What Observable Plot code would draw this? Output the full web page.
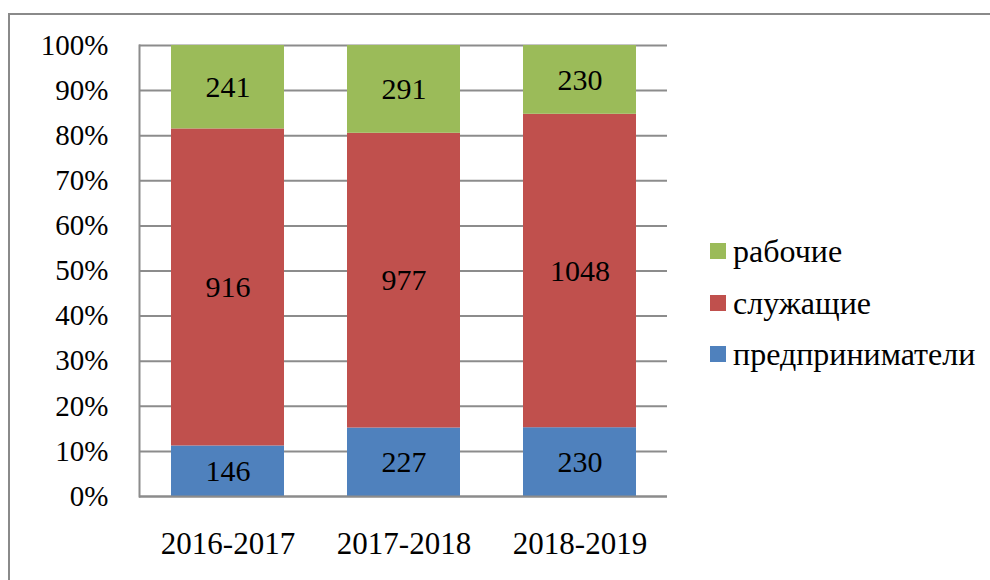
<!DOCTYPE html>
<html>
<head>
<meta charset="utf-8">
<script src="https://cdn.jsdelivr.net/npm/d3@7"></script>
<script src="https://cdn.jsdelivr.net/npm/@observablehq/plot@0.6"></script>
</head>
<body style="margin:0;padding:0;background:#fff;overflow:hidden;font-family:'Liberation Serif'">
<div id="wrap" style="position:relative;width:990px;height:580px;overflow:hidden;font-family:'Liberation Serif'">
  <div id="chart" style="position:absolute;left:0;top:0"></div>
  <div id="legend"></div>
  <div id="frame" style="position:absolute;left:8px;top:13px;width:1200px;height:800px;border:2px solid #8a8a8a;box-sizing:border-box;pointer-events:none"></div>
</div>
<script>
const years = ["2016-2017", "2017-2018", "2018-2019"];
const groups = ["предприниматели", "служащие", "рабочие"];
const predprinimateli = [146, 227, 230];
const sluzhashchie = [916, 977, 1048];
const rabochie = [241, 291, 230];
const colors = ["#4F81BD", "#C0504D", "#9BBB59"];
const yTicks = [0, 0.1, 0.2, 0.3, 0.4, 0.5, 0.6, 0.7, 0.8, 0.9, 1];

const series = [predprinimateli, sluzhashchie, rabochie];
const data = years.flatMap((year, i) =>
  groups.map((g, j) => ({ year, group: g, value: series[j][i] }))
);

const FONT = "Liberation Serif";

const chart = Plot.plot({
  width: 990,
  height: 580,
  marginLeft: 139,
  marginRight: 323,
  marginTop: 45,
  marginBottom: 84,
  style: { fontSize: "29px", color: "#000", background: "transparent" },
  x: { domain: years, paddingInner: 0.36, paddingOuter: 0.18, label: null },
  y: { domain: [0, 1], label: null },
  color: { domain: groups, range: colors },
  marks: [
    Plot.gridY(yTicks, { stroke: "#8c8c8c", strokeOpacity: 1, strokeWidth: 2 }),
    Plot.barY(data, Plot.stackY({ x: "year", y: "value", fill: "group", offset: "normalize" })),
    Plot.text(data, Plot.stackY({ x: "year", y: "value", text: d => String(d.value), offset: "normalize", fill: "#000", fontSize: 30 })),
    Plot.ruleY([0], { stroke: "#8c8c8c", strokeWidth: 2 }),
    Plot.axisY({ ticks: yTicks, tickFormat: d => Math.round(d * 100) + "%", tickSize: 0, tickPadding: 31, fontSize: 29, label: null }),
    Plot.axisX({ tickSize: 0, tickPadding: 35, fontSize: 31, label: null }),
    Plot.frame({ anchor: "left", stroke: "#8c8c8c", strokeWidth: 2 })
  ]
});
chart.setAttribute("font-family", FONT);
chart.style.fontFamily = "'Liberation Serif'";
chart.querySelectorAll("g, text").forEach(el => {
  if (el.hasAttribute("font-family")) el.setAttribute("font-family", FONT);
});
chart.querySelectorAll("text").forEach(el => { el.style.fontFamily = "'Liberation Serif'"; });
document.getElementById("chart").appendChild(chart);

const legend = document.getElementById("legend");
const legendOrder = [2, 1, 0];
const legendTops = [236, 288, 339];
legendOrder.forEach((j, k) => {
  const row = document.createElement("div");
  row.style.cssText = "position:absolute;left:710px;top:" + legendTops[k] + "px;display:flex;align-items:center;height:30px;font-size:32px;color:#000;font-family:'Liberation Serif'";
  const sw = document.createElement("div");
  sw.style.cssText = "width:16px;height:16px;margin-right:7px;background:" + colors[j];
  const label = document.createElement("span");
  label.textContent = groups[j];
  row.appendChild(sw);
  row.appendChild(label);
  legend.appendChild(row);
});
</script>
</body>
</html>
